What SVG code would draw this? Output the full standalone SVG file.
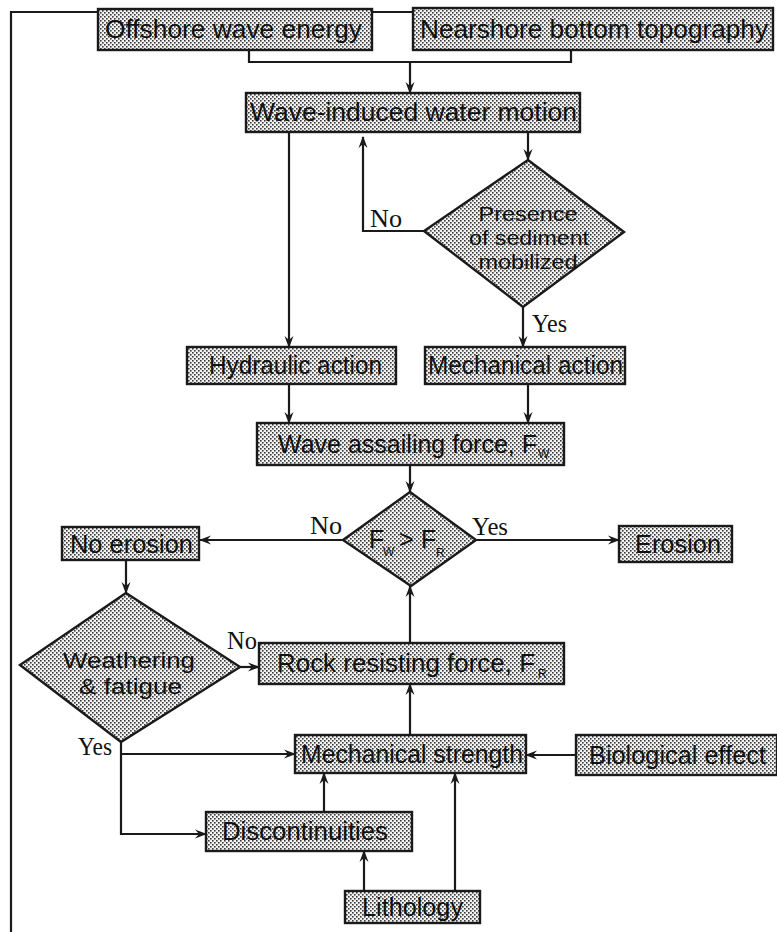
<svg xmlns="http://www.w3.org/2000/svg" width="777" height="932" viewBox="0 0 777 932">
<defs>
<pattern id="dots" width="4" height="4" patternUnits="userSpaceOnUse">
<rect width="4" height="4" fill="#f2f2f2"/>
<rect x="0" y="0" width="1.6" height="1.6" fill="#3a3a3a"/>
<rect x="2" y="2" width="1.6" height="1.6" fill="#3a3a3a"/>
</pattern>
<marker id="arr" viewBox="0 0 12 10" refX="11" refY="5" markerWidth="12" markerHeight="10" markerUnits="userSpaceOnUse" orient="auto">
<path d="M0,0.5 L12,5 L0,9.5 L4,5 z" fill="#1a1a1a"/>
</marker>
<style>
.box{fill:url(#dots);stroke:#1a1a1a;stroke-width:2.4}
.lbl{font-family:"Liberation Sans",Arial,sans-serif;font-size:25px;fill:#111}
.dlbl{font-family:"Liberation Sans",Arial,sans-serif;font-size:20px;fill:#111}
.wlbl{font-family:"Liberation Sans",Arial,sans-serif;font-size:22px;fill:#111}
.sub{font-family:"Liberation Sans",Arial,sans-serif;font-size:12px;fill:#111}
.yn{font-family:"Liberation Serif","Times New Roman",serif;font-size:25px;fill:#111}
.ln{fill:none;stroke:#1a1a1a;stroke-width:2.2}
.ar{fill:none;stroke:#1a1a1a;stroke-width:2.2;marker-end:url(#arr)}
</style>
</defs>

<g id="connectors">
<polyline class="ln" points="98,12 11,12 11,932"/>
<line class="ln" x1="372" y1="12" x2="413" y2="12"/>
<polyline class="ln" points="249,50 249,62 571,62 571,50"/>
<line class="ar" x1="410" y1="62" x2="410" y2="93"/>
<line class="ar" x1="289" y1="132" x2="289" y2="347"/>
<line class="ar" x1="528" y1="132" x2="528" y2="160"/>
<polyline class="ar" points="424,231 363,231 363,137"/>
<line class="ar" x1="523" y1="307" x2="523" y2="347"/>
<line class="ar" x1="289" y1="384" x2="289" y2="423"/>
<line class="ar" x1="528" y1="384" x2="528" y2="423"/>
<line class="ar" x1="410" y1="465" x2="410" y2="492"/>
<line class="ar" x1="343" y1="540" x2="200" y2="540"/>
<line class="ar" x1="476" y1="540" x2="619" y2="540"/>
<line class="ar" x1="126" y1="560" x2="126" y2="593"/>
<line class="ar" x1="240" y1="667" x2="259" y2="667"/>
<line class="ar" x1="410" y1="643" x2="410" y2="586"/>
<line class="ar" x1="410" y1="735" x2="410" y2="684"/>
<polyline class="ar" points="121,742 121,834 206,834"/>
<line class="ar" x1="121" y1="754" x2="295" y2="754"/>
<line class="ar" x1="576" y1="755" x2="526" y2="755"/>
<line class="ar" x1="324" y1="812" x2="324" y2="773"/>
<line class="ar" x1="364" y1="891" x2="364" y2="851"/>
<line class="ar" x1="455" y1="891" x2="455" y2="773"/>
<text class="yn" x="370" y="227" textLength="32" lengthAdjust="spacingAndGlyphs">No</text>
<text class="yn" x="532" y="332" textLength="35" lengthAdjust="spacingAndGlyphs">Yes</text>
<text class="yn" x="310" y="534" textLength="32" lengthAdjust="spacingAndGlyphs">No</text>
<text class="yn" x="472" y="535" textLength="36" lengthAdjust="spacingAndGlyphs">Yes</text>
<text class="yn" x="227" y="649" textLength="30" lengthAdjust="spacingAndGlyphs">No</text>
<text class="yn" x="78" y="755" textLength="34" lengthAdjust="spacingAndGlyphs">Yes</text>
</g>

<g id="offshore">
<rect class="box" x="98" y="9" width="274" height="41"/>
<text class="lbl" x="105" y="38" textLength="257" lengthAdjust="spacingAndGlyphs">Offshore wave energy</text>
</g>
<g id="nearshore">
<rect class="box" x="413" y="8" width="360" height="42"/>
<text class="lbl" x="420" y="38" textLength="348" lengthAdjust="spacingAndGlyphs">Nearshore bottom topography</text>
</g>
<g id="wave-induced">
<rect class="box" x="246" y="93" width="334" height="39"/>
<text class="lbl" x="250" y="121" textLength="327" lengthAdjust="spacingAndGlyphs">Wave-induced water motion</text>
</g>
<g id="presence">
<polygon class="box" points="528,160 624,232 523,307 424,231"/>
<text class="dlbl" x="528" y="221" text-anchor="middle" textLength="99" lengthAdjust="spacingAndGlyphs">Presence</text>
<text class="dlbl" x="529" y="245" text-anchor="middle" textLength="120" lengthAdjust="spacingAndGlyphs">of sediment</text>
<text class="dlbl" x="528" y="269" text-anchor="middle" textLength="99" lengthAdjust="spacingAndGlyphs">mobilized</text>
</g>
<g id="hydraulic">
<rect class="box" x="187" y="347" width="209" height="37"/>
<text class="lbl" x="209" y="374" textLength="173" lengthAdjust="spacingAndGlyphs">Hydraulic action</text>
</g>
<g id="mechanical-action">
<rect class="box" x="425" y="347" width="200" height="37"/>
<text class="lbl" x="428" y="374" textLength="195" lengthAdjust="spacingAndGlyphs">Mechanical action</text>
</g>
<g id="wave-assailing">
<rect class="box" x="257" y="423" width="307" height="42"/>
<text class="lbl" x="278" y="453" textLength="259" lengthAdjust="spacingAndGlyphs">Wave assailing force, F</text>
<text class="sub" x="538" y="458">W</text>
</g>
<g id="compare">
<polygon class="box" points="410,492 476,540 411,586 343,540"/>
<text class="lbl" x="369" y="548" font-size="23">F</text>
<text class="sub" x="383" y="556" font-size="11">W</text>
<text class="lbl" x="399" y="548" font-size="20">&gt;</text>
<text class="lbl" x="421" y="548" font-size="23">F</text>
<text class="sub" x="436" y="557" font-size="11">R</text>
</g>
<g id="no-erosion">
<rect class="box" x="62" y="527" width="137" height="33"/>
<text class="lbl" x="70" y="553" textLength="123" lengthAdjust="spacingAndGlyphs">No erosion</text>
</g>
<g id="erosion">
<rect class="box" x="619" y="526" width="113" height="36"/>
<text class="lbl" x="635" y="553" textLength="86" lengthAdjust="spacingAndGlyphs">Erosion</text>
</g>
<g id="weathering">
<polygon class="box" points="126,593 240,667 121,742 20,665"/>
<text class="wlbl" x="63" y="668" textLength="132" lengthAdjust="spacingAndGlyphs">Weathering</text>
<text class="wlbl" x="79" y="694" textLength="103" lengthAdjust="spacingAndGlyphs">&amp; fatigue</text>
</g>
<g id="rock-resisting">
<rect class="box" x="259" y="643" width="305" height="41"/>
<text class="lbl" x="277" y="672" textLength="258" lengthAdjust="spacingAndGlyphs">Rock resisting force, F</text>
<text class="sub" x="538" y="678">R</text>
</g>
<g id="mechanical-strength">
<rect class="box" x="295" y="735" width="231" height="38"/>
<text class="lbl" x="301" y="763" textLength="222" lengthAdjust="spacingAndGlyphs">Mechanical strength</text>
</g>
<g id="biological">
<rect class="box" x="576" y="735" width="201" height="40"/>
<text class="lbl" x="589" y="764" textLength="177" lengthAdjust="spacingAndGlyphs">Biological effect</text>
</g>
<g id="discontinuities">
<rect class="box" x="206" y="812" width="206" height="39"/>
<text class="lbl" x="222" y="840" textLength="166" lengthAdjust="spacingAndGlyphs">Discontinuities</text>
</g>
<g id="lithology">
<rect class="box" x="345" y="891" width="135" height="32"/>
<text class="lbl" x="362" y="916" textLength="101" lengthAdjust="spacingAndGlyphs">Lithology</text>
</g>
</svg>
